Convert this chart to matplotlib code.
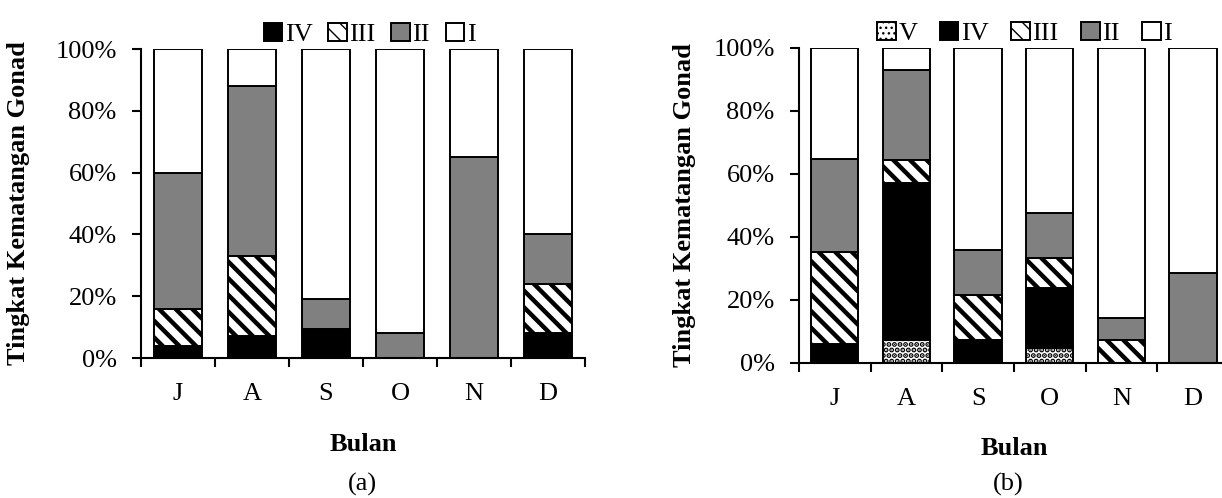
import matplotlib
matplotlib.use("Agg")
import matplotlib.pyplot as plt
import numpy as np
from matplotlib.patches import Patch

plt.rcParams['font.family'] = ['Liberation Serif', 'DejaVu Serif']
plt.rcParams['hatch.color'] = 'black'

months = ['J', 'A', 'S', 'O', 'N', 'D']

# persentase tingkat kematangan gonad (a)
a_iv = [4, 7, 9.5, 0, 0, 8]
a_iii = [12, 26, 0, 0, 0, 16]
a_ii = [44, 55, 9.5, 8, 65, 16]
a_i = [40, 12, 81, 92, 35, 60]

# persentase tingkat kematangan gonad (b)
b_v = [0, 7.1, 0, 4.8, 0, 0]
b_iv = [5.9, 50, 7.1, 19.0, 0, 0]
b_iii = [29.4, 7.1, 14.3, 9.5, 7.1, 0]
b_ii = [29.4, 28.6, 14.3, 14.3, 7.1, 28.6]
b_i = [35.3, 7.2, 64.3, 52.4, 85.8, 71.4]

styles = {
    'V': dict(facecolor='white', hatch='...', hlw=2.6),
    'IV': dict(facecolor='black', hatch=None, hlw=1.0),
    'III': dict(facecolor='white', hatch='\\\\', hlw=3.2),
    'II': dict(facecolor='#808080', hatch=None, hlw=1.0),
    'I': dict(facecolor='white', hatch=None, hlw=1.0),
}

fs = 19


def draw_panel(ax, series, legend_x, colsp):
    x = np.arange(len(months))
    bottom = np.zeros(len(months))
    for name, vals in series:
        vals = np.array(vals) / 100.0
        st = styles[name]
        plt.rcParams['hatch.linewidth'] = st['hlw']
        ax.bar(x, vals, width=0.66, bottom=bottom, color=st['facecolor'],
               hatch=st['hatch'], edgecolor='black', linewidth=1.4, zorder=2)
        bottom += vals
    ax.set_xlim(-0.5, len(months) - 0.5)
    ax.set_ylim(0, 1)
    ax.set_yticks(np.arange(0, 1.01, 0.2))
    ax.set_yticklabels(['%d%%' % v for v in range(0, 101, 20)], fontsize=fs)
    ax.set_xticks(np.arange(-0.5, len(months)), labels=[''] * (len(months) + 1))
    ax.set_xticks(x, labels=months, minor=True)
    ax.tick_params(axis='x', which='minor', length=0, labelsize=fs, pad=18)
    ax.tick_params(axis='x', which='major', length=6.5, width=1.5, direction='out')
    ax.tick_params(axis='y', length=6.5, width=1.5, pad=11)
    for s in ['top', 'right']:
        ax.spines[s].set_visible(False)
    for s in ['left', 'bottom']:
        ax.spines[s].set_linewidth(1.5)
    ax.set_ylabel('Tingkat Kematangan Gonad', fontsize=fs, fontweight='bold')
    ax.set_xlabel('Bulan', fontsize=fs, fontweight='bold', labelpad=20)
    names = [n for n, _ in series]
    handles = []
    for n in names:
        plt.rcParams['hatch.linewidth'] = styles[n]['hlw']
        handles.append(Patch(facecolor=styles[n]['facecolor'], hatch=styles[n]['hatch'],
                             edgecolor='black', linewidth=1.4))
    ax.legend(handles, names, loc='lower center', bbox_to_anchor=(legend_x, 1.0),
              ncol=len(names), frameon=False, fontsize=fs, handlelength=0.7,
              handleheight=0.7, handletextpad=0.1, columnspacing=colsp,
              borderaxespad=0, borderpad=0.1)


fig = plt.figure(figsize=(12.22, 4.98), dpi=100)

ax1 = fig.add_axes([0.1154, 0.2811, 0.3633, 0.6205])
draw_panel(ax1, [('IV', a_iv), ('III', a_iii), ('II', a_ii), ('I', a_i)], 0.515, 0.6)
ax1.yaxis.set_label_coords(-0.25, 0.5)
fig.text(0.297, 0.028, '(a)', fontsize=fs, ha='center', va='center')

ax2 = fig.add_axes([0.6538, 0.2717, 0.3519, 0.6325])
draw_panel(ax2, [('V', b_v), ('IV', b_iv), ('III', b_iii), ('II', b_ii), ('I', b_i)], 0.525, 0.85)
ax2.yaxis.set_label_coords(-0.24, 0.5)
fig.text(0.825, 0.028, '(b)', fontsize=fs, ha='center', va='center')

fig.savefig('out.png', dpi=100)
